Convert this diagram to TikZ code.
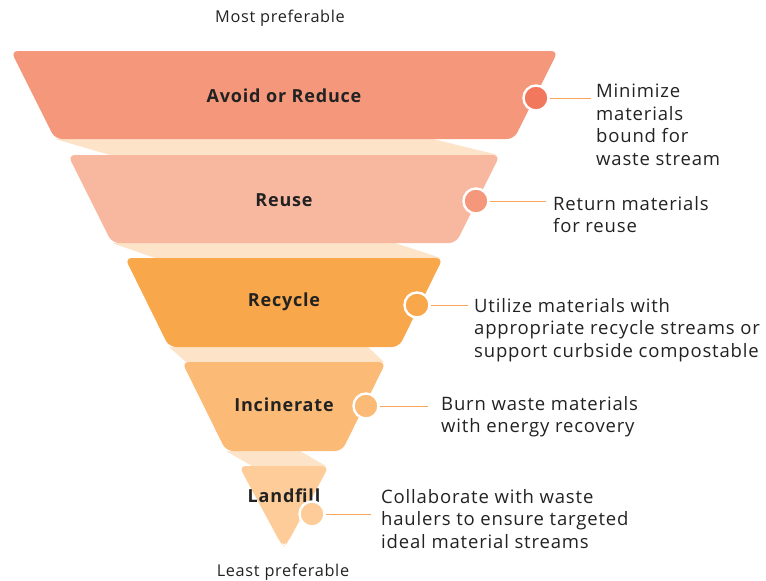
\documentclass[tikz,border=0pt]{standalone}
\usepackage{fontspec}
\setmainfont{Open Sans}
\newfontfamily\descfont[LetterSpace=4.5]{Open Sans}
\newfontfamily\labelfont[LetterSpace=4.5]{Open Sans Bold}
\newfontfamily\notefont[LetterSpace=4]{Open Sans}
\definecolor{tierA}{HTML}{F4977B}
\definecolor{tierB}{HTML}{F8B8A0}
\definecolor{tierC}{HTML}{F9A74B}
\definecolor{tierD}{HTML}{FBBA76}
\definecolor{tierE}{HTML}{FDCC98}
\definecolor{dotA}{HTML}{F2785D}
\definecolor{band}{HTML}{FDE3C8}
\definecolor{lead}{HTML}{F9A65A}
\definecolor{ink}{HTML}{222222}
\begin{document}
\begin{tikzpicture}[x=1pt,y=-1pt,
  tier/.style={rounded corners=7pt},
  label/.style={font=\labelfont\fontsize{18}{21}\selectfont, text=ink, inner sep=0pt},
  desc/.style={font=\descfont\fontsize{18.5}{22.6}\selectfont, text=ink, align=left, anchor=north west, inner sep=0pt},
  endnote/.style={font=\notefont\fontsize{16.3}{19}\selectfont, text=ink, inner sep=0pt},
  dot/.style={circle, draw=white, line width=2.4pt, minimum size=25pt, inner sep=0pt},
  leader/.style={draw=lead, line width=0.9pt}]
\useasboundingbox (0,0) rectangle (766,581);

% connecting bands between the tiers
\fill[band] (55,139) -- (433,139) -- (498,155) -- (110,155) -- cycle;
\fill[band] (112,243) -- (395,243) -- (441,258) -- (155,258) -- cycle;
\fill[band] (169,347) -- (368,347) -- (384,362) -- (186,362) -- cycle;
\fill[band] (226,451) -- (300,451) -- (326,466) -- (252,466) -- cycle;

% funnel tiers
\fill[tierA, tier] (11,51) -- (558,51) -- (514,139) -- (55,139) -- cycle;
\fill[tierB, tier] (68,155) -- (500,155) -- (456,243) -- (112,243) -- cycle;
\fill[tierC, tier] (125,258) -- (443,258) -- (399,347) -- (169,347) -- cycle;
\fill[tierD, tier] (182,362) -- (386,362) -- (342,451) -- (226,451) -- cycle;
\fill[tierE, rounded corners=7pt] (239,466) -- (329,466) -- (288,542) [rounded corners=5pt] -- (284,546) -- (280,542) [rounded corners=7pt] -- cycle;

% tier labels
\node[label] (lA) at (284,96) {Avoid or Reduce};
\node[label] (lB) at (284,200) {Reuse};
\node[label] (lC) at (284,302) {Recycle};
\node[label] (lD) at (284,405) {Incinerate};
\node[label] (lE) at (284,496) {Landfill};

% descriptions
\node[desc] (dA) at (596,84) {Minimize\\materials\\bound for\\waste stream};
\node[desc] (dB) at (553,196) {Return materials\\for reuse};
\node[desc] (dC) at (474,298) {Utilize materials with\\appropriate recycle streams or\\support curbside compostable};
\node[desc] (dD) at (441,396) {Burn waste materials\\with energy recovery};
\node[desc] (dE) at (381,489) {Collaborate with waste\\haulers to ensure targeted\\ideal material streams};

% leader end points
\coordinate (eA) at (591,98);
\coordinate (eB) at (546,201);
\coordinate (eC) at (468,305);
\coordinate (eD) at (428,406);
\coordinate (eE) at (371,514);

% markers on the tier edges
\node[dot, fill=dotA] (cA) at (536,98) {};
\node[dot, fill=tierA] (cB) at (476,201) {};
\node[dot, fill=tierC] (cC) at (417,305) {};
\node[dot, fill=tierD] (cD) at (366,406) {};
\node[dot, fill=tierE] (cE) at (312,514) {};

\draw[leader] (cA.east) -- (eA);
\draw[leader] (cB.east) -- (eB);
\draw[leader] (cC.east) -- (eC);
\draw[leader] (cD.east) -- (eD);
\draw[leader] (cE.east) -- (eE);

% scale ends
\node[endnote] (top) at (280,18.5) {Most preferable};
\node[endnote] (bottom) at (283,572.5) {Least preferable};
\end{tikzpicture}
\end{document}
